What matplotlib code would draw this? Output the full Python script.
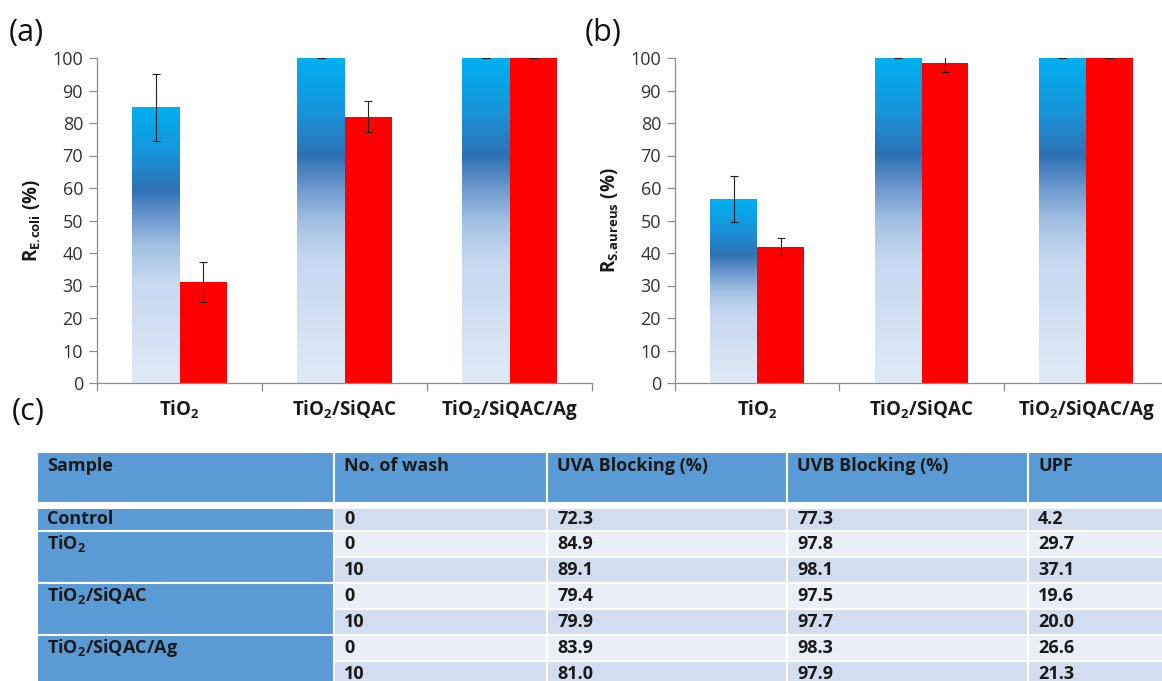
import numpy as np
import matplotlib
matplotlib.use('Agg')
import matplotlib.pyplot as plt
from matplotlib.colors import LinearSegmentedColormap
from matplotlib.patches import Rectangle

plt.rcParams['font.family'] = ['Open Sans', 'DejaVu Sans']
plt.rcParams['mathtext.fontset'] = 'custom'
plt.rcParams['mathtext.rm'] = 'Open Sans'
plt.rcParams['mathtext.bf'] = 'Open Sans:bold'

# bar chart data (R %, two bars per sample)
categories = [r'TiO$_\mathbf{2}$', r'TiO$_\mathbf{2}$/SiQAC', r'TiO$_\mathbf{2}$/SiQAC/Ag']
ecoli_0 = [84.8, 100, 100]
ecoli_0_err = [10.4, 0, 0]
ecoli_10 = [31.0, 81.9, 100]
ecoli_10_err = [6.2, 4.8, 0]
saureus_0 = [56.6, 100, 100]
saureus_0_err = [7.0, 0, 0]
saureus_10 = [42.0, 98.4, 100]
saureus_10_err = [2.7, 2.8, 0]

# table data
table_header = ['Sample', 'No. of wash', 'UVA Blocking (%)', 'UVB Blocking (%)', 'UPF']
samples = ['Control', r'TiO$_\mathbf{2}$', r'TiO$_\mathbf{2}$/SiQAC', r'TiO$_\mathbf{2}$/SiQAC/Ag']
sample_nrows = [1, 2, 2, 2]
washes = ['0', '0', '10', '0', '10', '0', '10']
uva = ['72.3', '84.9', '89.1', '79.4', '79.9', '83.9', '81.0']
uvb = ['77.3', '97.8', '98.1', '97.5', '97.7', '98.3', '97.9']
upf = ['4.2', '29.7', '37.1', '19.6', '20.0', '26.6', '21.3']

W, H = 1162, 681
fig = plt.figure(figsize=(W / 100, H / 100), dpi=100)

# background axes in pixel coords for the table and panel letters
bg = fig.add_axes([0, 0, 1, 1])
bg.set_xlim(0, W)
bg.set_ylim(H, 0)
bg.axis('off')

grad_cmap = LinearSegmentedColormap.from_list('bluegrad', [
    (0.0, '#dfeaf6'), (0.38, '#c5d8ef'), (0.5, '#a2bfe2'),
    (0.6, '#6d98cf'), (0.7, '#2e72b4'), (0.84, '#1795db'), (1.0, '#00b0f0')])

TXT = '#1a1a1a'
AX_GREY = '#8c8c8c'
bw = 0.285


def draw_panel(ax, vals0, err0, vals10, err10, ylabel):
    x = np.arange(len(categories))
    for xi, v in zip(x, vals0):
        ax.imshow(np.linspace(0, 1, 256).reshape(-1, 1), extent=[xi - bw, xi, 0, v],
                  origin='lower', cmap=grad_cmap, aspect='auto', zorder=2)
    ax.bar(x + bw / 2, vals10, width=bw, color='#ff0000', zorder=2)
    ax.errorbar(x - bw / 2, vals0, yerr=err0, fmt='none', ecolor='#222222',
                elinewidth=0.8, capsize=3, capthick=0.8, zorder=3)
    ax.errorbar(x + bw / 2, vals10, yerr=err10, fmt='none', ecolor='#222222',
                elinewidth=0.8, capsize=3, capthick=0.8, zorder=3)
    ax.set_xlim(-0.5, 2.5)
    ax.set_ylim(0, 100)
    ax.set_yticks(range(0, 101, 10))
    ax.set_xticks(x)
    ax.set_xticklabels(categories, fontweight='bold', fontsize=13.5)
    ax.set_xticks([-0.5, 0.5, 1.5, 2.5], minor=True)
    ax.tick_params(axis='x', which='major', length=0, pad=11, colors=TXT)
    ax.tick_params(axis='x', which='minor', length=6, color=AX_GREY, width=0.9)
    ax.tick_params(axis='y', length=6, color=AX_GREY, width=0.9, labelsize=13,
                   labelcolor='#333333', pad=4)
    for s in ['top', 'right']:
        ax.spines[s].set_visible(False)
    for s in ['left', 'bottom']:
        ax.spines[s].set_color(AX_GREY)
        ax.spines[s].set_linewidth(0.9)
    ax.set_ylabel(ylabel, fontsize=13.5, fontweight='bold', labelpad=7, color=TXT)


def fx(px):
    return px / W


def fy(py):
    return 1 - py / H


ax_a = fig.add_axes([fx(97), fy(383), fx(592 - 97), fy(58) - fy(383)])
draw_panel(ax_a, ecoli_0, ecoli_0_err, ecoli_10, ecoli_10_err,
           r'$\mathbf{R_{E.\!coli}}$ (%)')
ax_b = fig.add_axes([fx(675), fy(383), fx(1168 - 675), fy(58) - fy(383)])
draw_panel(ax_b, saureus_0, saureus_0_err, saureus_10, saureus_10_err,
           r'$\mathbf{R_{S.\!aureus}}$ (%)')

# panel letters
bg.text(9, 33, '(a)', fontsize=22, va='center', ha='left', color='#111111')
bg.text(585, 33, '(b)', fontsize=22, va='center', ha='left', color='#111111')
bg.text(12, 412, '(c)', fontsize=22, va='center', ha='left', color='#111111')

# table (c)
col_edges = [37, 334, 547, 787, 1028, 1180]
head_top, head_bot = 452, 503
row_edges = [508, 531, 557, 583, 609, 635, 661, 687]
HEAD_BLUE = '#5b9bd5'
ROW_DARK = '#d2deef'
ROW_LIGHT = '#e9eef7'

for c in range(len(table_header)):
    x0, x1 = col_edges[c], col_edges[c + 1]
    bg.add_patch(Rectangle((x0, head_top), x1 - x0, head_bot - head_top,
                           facecolor=HEAD_BLUE, edgecolor='white', linewidth=1.5))
    bg.text(x0 + 10, head_top + 14, table_header[c], fontsize=13, fontweight='bold',
            color=TXT, va='center', ha='left')

r = 0
for name, n in zip(samples, sample_nrows):
    y0, y1 = row_edges[r], row_edges[r + n]
    bg.add_patch(Rectangle((col_edges[0], y0), col_edges[1] - col_edges[0], y1 - y0,
                           facecolor=HEAD_BLUE, edgecolor='white', linewidth=1.5))
    bg.text(col_edges[0] + 10, (row_edges[r] + row_edges[r + 1]) / 2, name,
            fontsize=13, fontweight='bold', color=TXT, va='center', ha='left')
    r += n

body_cols = [washes, uva, uvb, upf]
for i in range(len(washes)):
    y0, y1 = row_edges[i], row_edges[i + 1]
    fc = ROW_DARK if i % 2 == 0 else ROW_LIGHT
    for c, col in enumerate(body_cols, start=1):
        x0, x1 = col_edges[c], col_edges[c + 1]
        bg.add_patch(Rectangle((x0, y0), x1 - x0, y1 - y0,
                               facecolor=fc, edgecolor='white', linewidth=1.5))
        bg.text(x0 + 10, (y0 + y1) / 2, col[i], fontsize=13, fontweight='bold',
                color=TXT, va='center', ha='left')

fig.savefig('out.png', dpi=100)
